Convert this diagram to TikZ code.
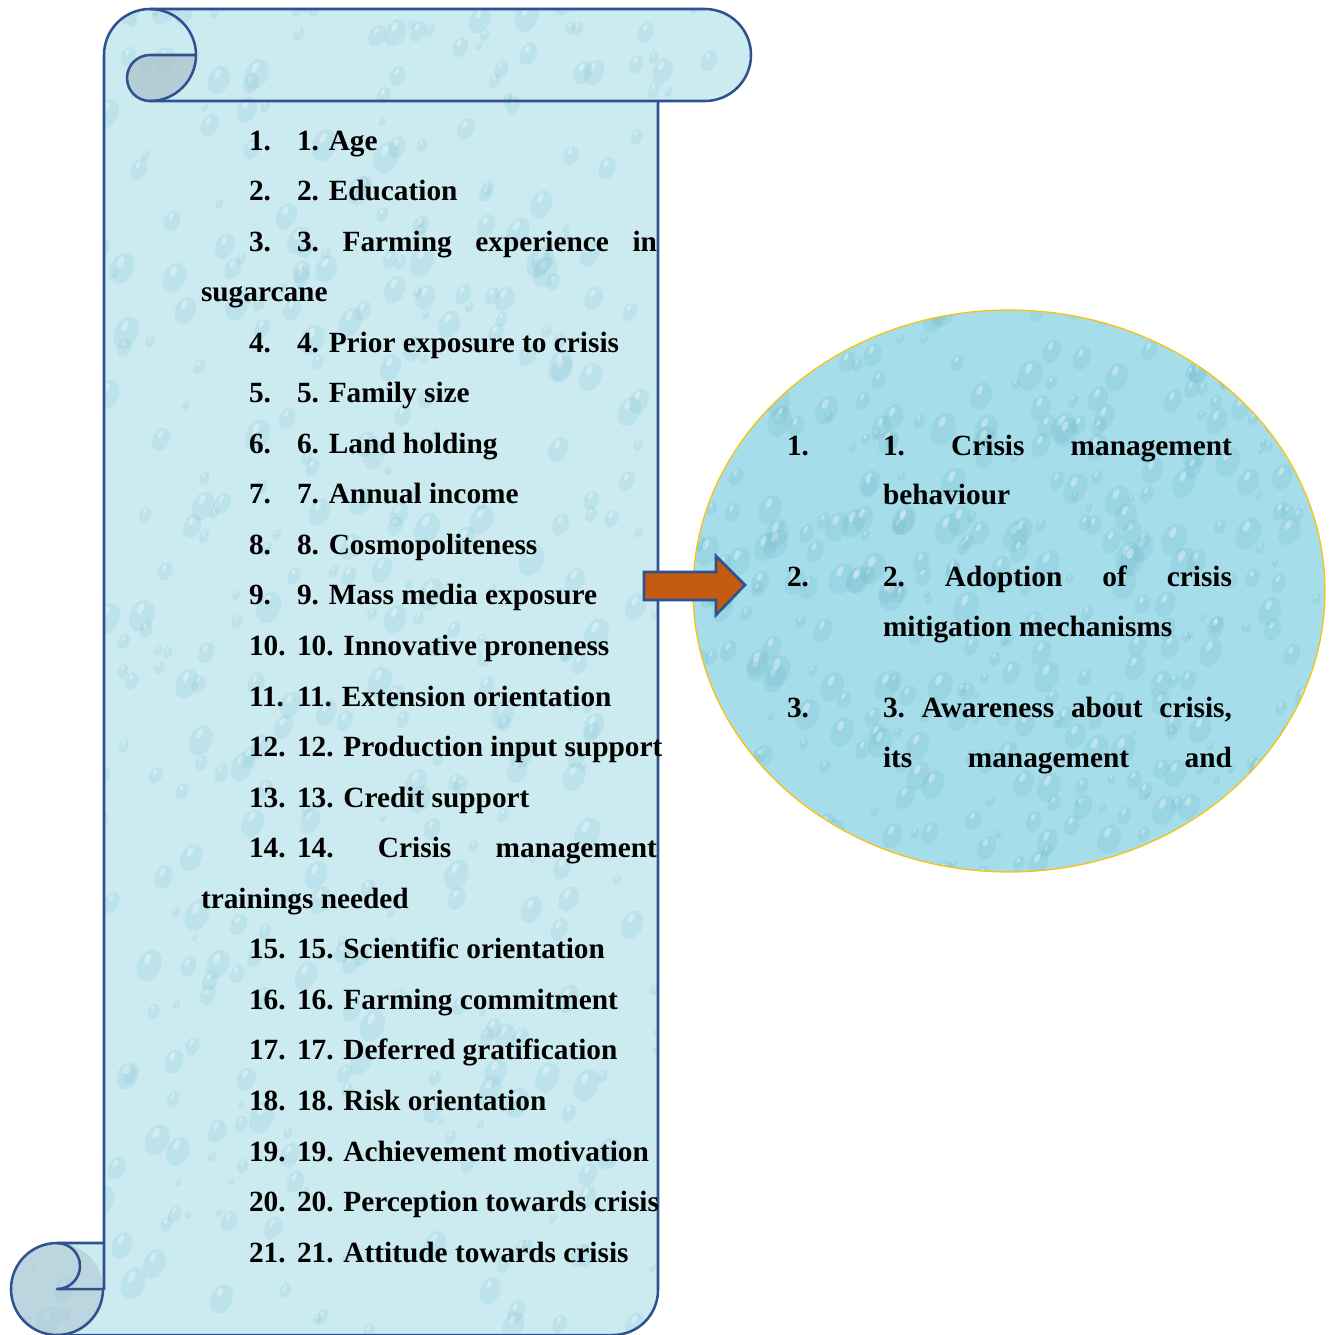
\documentclass[tikz,border=0pt]{standalone}
\usepackage{fontspec}
\setmainfont{Liberation Serif}
\definecolor{scrollbg}{RGB}{204,235,241}
\definecolor{circlebg}{RGB}{165,222,234}
\definecolor{curlgray}{RGB}{176,200,210}
\definecolor{dropc}{RGB}{120,188,208}
\definecolor{scrollborder}{RGB}{47,82,143}
\definecolor{goldline}{RGB}{255,192,0}
\definecolor{arroworange}{RGB}{197,90,17}
\begin{document}
\begin{tikzpicture}[x=0.75pt,y=-0.75pt,
  lbl/.style={anchor=base west,inner sep=0pt,outer sep=0pt,font=\fontsize{22}{26}\selectfont\bfseries},
  outl/.style={draw=scrollborder,line width=1.9pt,line join=round,line cap=round},
  dropdark/.style={fill=dropc,opacity=0.18},
  droplight/.style={fill=white,opacity=0.35}]
\useasboundingbox (0,0) rectangle (1334,1335);
\def\scrollpath{(104,1243) -- (104,55) arc[start angle=180,end angle=270,radius=46] -- (705,9) arc[start angle=270,end angle=450,radius=46] -- (658,101) -- (658,1290) arc[start angle=0,end angle=90,radius=45] -- (57,1335) arc[start angle=90,end angle=270,radius=46] -- cycle}
% scroll fill
\fill[scrollbg] \scrollpath;
\begin{scope}
  \clip \scrollpath;
  \pgfmathsetseed{11}
  \foreach \i in {1,...,520}{
    \pgfmathsetmacro{\dx}{10+rnd*750}
    \pgfmathsetmacro{\dy}{rnd*1335}
    \pgfmathsetmacro{\dr}{4+rnd*13}
    \fill[dropdark,rotate around={-25:(\dx,\dy)}] (\dx,\dy) ellipse[x radius=0.7*\dr, y radius=\dr];
    \fill[droplight,rotate around={-25:(\dx,\dy)}] (\dx-0.25*\dr,\dy-0.35*\dr) ellipse[x radius=0.18*\dr, y radius=0.35*\dr];
  }
\end{scope}
% curl shading
\fill[curlgray,opacity=0.85] (150,55) -- (196,55) arc[start angle=0,end angle=90,radius=46] arc[start angle=90,end angle=270,radius=23] -- cycle;
\fill[curlgray,opacity=0.6] (57,1289) circle[radius=46];
% outlines
\draw[outl] (104,1289) -- (104,55) arc[start angle=180,end angle=270,radius=46] -- (705,9) arc[start angle=270,end angle=450,radius=46] -- (150,101);
\draw[outl] (150,9) arc[start angle=270,end angle=450,radius=46];
\draw[outl] (196,55) -- (150,55) arc[start angle=270,end angle=90,radius=23];
\draw[outl] (658,101) -- (658,1290) arc[start angle=0,end angle=90,radius=45] -- (57,1335) arc[start angle=90,end angle=270,radius=46] -- (104,1243);
\draw[outl] (57,1243) arc[start angle=270,end angle=450,radius=23] -- (104,1289);
\draw[outl] (103,1289) arc[start angle=0,end angle=90,radius=46];
% circle
\fill[circlebg] (1009,591) ellipse[x radius=316, y radius=281];
\begin{scope}
  \clip (1009,591) ellipse[x radius=316, y radius=281];
  \pgfmathsetseed{5}
  \foreach \i in {1,...,420}{
    \pgfmathsetmacro{\dx}{690+rnd*640}
    \pgfmathsetmacro{\dy}{305+rnd*575}
    \pgfmathsetmacro{\dr}{4+rnd*13}
    \fill[dropdark,opacity=0.25,rotate around={-25:(\dx,\dy)}] (\dx,\dy) ellipse[x radius=0.7*\dr, y radius=\dr];
    \fill[droplight,rotate around={-25:(\dx,\dy)}] (\dx-0.25*\dr,\dy-0.35*\dr) ellipse[x radius=0.18*\dr, y radius=0.35*\dr];
  }
\end{scope}
\draw[goldline,line width=0.9pt] (1009,591) ellipse[x radius=316, y radius=281];
% arrow
\filldraw[fill=arroworange,draw=scrollborder,line width=1.9pt,line join=miter] (644,572) -- (716,572) -- (716,556) -- (745,585) -- (716,615) -- (716,600) -- (644,600) -- cycle;
% scroll text
\foreach \k/\n/\t in {0/1./{1. Age},1/2./{2. Education},4/4./{4. Prior exposure to crisis},5/5./{5. Family size},6/6./{6. Land holding},7/7./{7. Annual income},8/8./{8. Cosmopoliteness},9/9./{9. Mass media exposure},10/10./{10. Innovative proneness},11/11./{11. Extension orientation},12/12./{12. Production input support},13/13./{13. Credit support},16/15./{15. Scientific orientation},17/16./{16. Farming commitment},18/17./{17. Deferred gratification},19/18./{18. Risk orientation},20/19./{19. Achievement motivation},21/20./{20. Perception towards crisis},22/21./{21. Attitude towards crisis}}{
  \node[lbl] (n\k) at (249,150+50.55*\k) {\n};
  \node[lbl] (t\k) at (297,150+50.55*\k) {\t};
}
\node[lbl] (n2) at (249,150+50.55*2) {3.};
\node[lbl] (t2) at (297,150+50.55*2) {\hbox to 270pt{3.\hfill Farming\hfill experience\hfill in}};
\node[lbl] (t3) at (201,150+50.55*3) {sugarcane};
\node[lbl] (n14) at (249,150+50.55*14) {14.};
\node[lbl] (t14) at (297,150+50.55*14) {\hbox to 270pt{14.\hfill Crisis\hfill management}};
\node[lbl] (t15) at (201,150+50.55*15) {trainings needed};
% circle text
\node[lbl] (c1) at (787,455) {1.};
\node[lbl] (d1) at (883,455) {\hbox to 261.75pt{1.\hfill Crisis\hfill management}};
\node[lbl] (d1b) at (883,504) {behaviour};
\node[lbl] (c2) at (787,586) {2.};
\node[lbl] (d2) at (883,586) {\hbox to 261.75pt{2.\hfill Adoption\hfill of\hfill crisis}};
\node[lbl] (d2b) at (883,636) {mitigation mechanisms};
\node[lbl] (c3) at (787,717) {3.};
\node[lbl] (d3) at (883,717) {\hbox to 261.75pt{3.\hfill Awareness\hfill about\hfill crisis,}};
\node[lbl] (d3b) at (883,767) {\hbox to 261.75pt{its\hfill management\hfill and}};
\end{tikzpicture}
\end{document}
